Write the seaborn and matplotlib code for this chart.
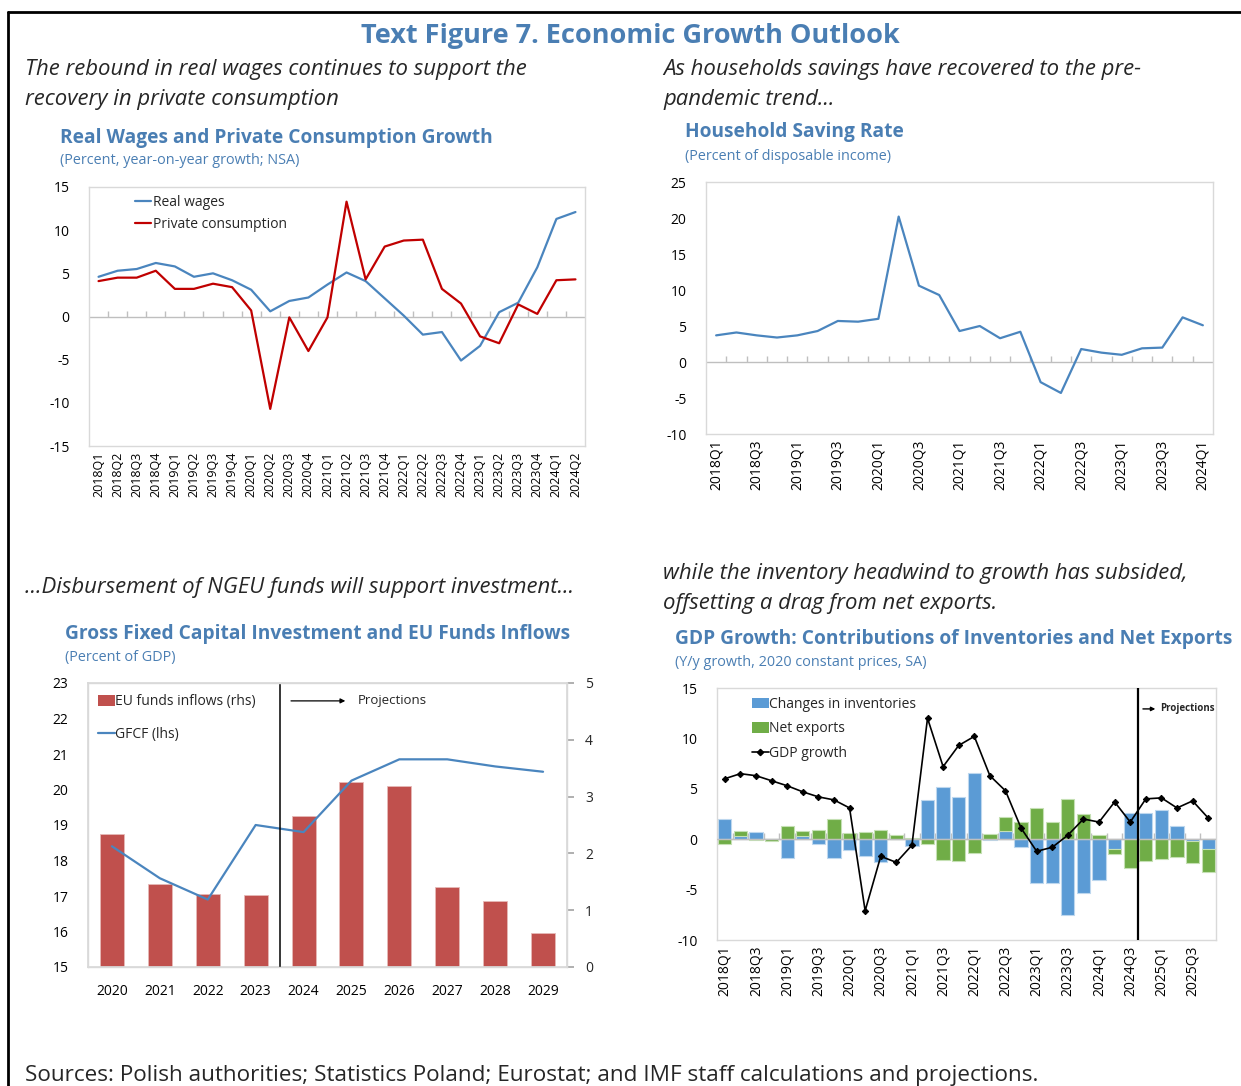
import numpy as np
import pandas as pd
import matplotlib
matplotlib.use('Agg')
import matplotlib.pyplot as plt
from matplotlib.lines import Line2D
from matplotlib.patches import Patch
import seaborn as sns

# ---------------- data ----------------
# Real wages and private consumption, 2018Q1-2024Q2 (y/y %)
quarters_wages = [f'{y}Q{q}' for y in range(2018, 2025) for q in range(1, 5)][:26]
real_wages = [4.6, 5.3, 5.5, 6.2, 5.8, 4.6, 5.0, 4.2, 3.1, 0.6, 1.8, 2.2, 3.7,
              5.1, 4.1, 2.1, 0.1, -2.1, -1.8, -5.1, -3.4, 0.5, 1.6, 5.7, 11.3, 12.1]
private_consumption = [4.1, 4.5, 4.5, 5.3, 3.2, 3.2, 3.8, 3.4, 0.7, -10.7, -0.1, -4.0, -0.1,
                       13.3, 4.3, 8.1, 8.8, 8.9, 3.2, 1.5, -2.3, -3.1, 1.4, 0.3, 4.2, 4.3]

# Household saving rate, 2018Q1-2024Q1 (% of disposable income)
quarters_saving = [f'{y}Q{q}' for y in range(2018, 2025) for q in range(1, 5)][:25]
saving_rate = [3.7, 4.1, 3.7, 3.4, 3.7, 4.3, 5.7, 5.6, 6.0, 20.2, 10.6, 9.3, 4.3,
               5.0, 3.3, 4.2, -2.8, -4.3, 1.8, 1.3, 1.0, 1.9, 2.0, 6.2, 5.1]

# GFCF and EU funds, 2020-2029 (% of GDP)
years = ['2020', '2021', '2022', '2023', '2024', '2025', '2026', '2027', '2028', '2029']
eu_funds = [2.34, 1.47, 1.28, 1.27, 2.65, 3.25, 3.18, 1.40, 1.17, 0.60]
gfcf = [18.4, 17.5, 16.9, 19.0, 18.8, 20.25, 20.85, 20.85, 20.65, 20.5]

# GDP growth contributions, 2018Q1-2025Q4
quarters_gdp = [f'{y}Q{q}' for y in range(2018, 2026) for q in range(1, 5)]
inventories = [2.0, 0.3, 0.7, 0.05, -1.9, 0.3, -0.5, -1.9, -1.1, -1.7, -2.3, 0.0, -0.7, 3.9, 5.2, 4.2,
               6.6, -0.1, 0.8, -0.8, -4.3, -4.3, -7.5, -5.3, -4.0, -1.0, 2.6, 2.6, 2.9, 1.3, -0.2, -1.0]
net_exports = [-0.5, 0.5, -0.1, -0.2, 1.3, 0.5, 0.9, 2.0, 0.6, 0.7, 0.9, 0.4, 0.1, -0.5, -2.1, -2.2,
               -1.4, 0.5, 1.4, 1.7, 3.1, 1.7, 4.0, 2.5, 0.4, -0.45, -2.9, -2.2, -2.0, -1.8, -2.2, -2.3]
gdp_growth = [6.0, 6.5, 6.3, 5.8, 5.3, 4.7, 4.2, 3.9, 3.1, -7.1, -1.7, -2.3, -0.6, 12.0, 7.2, 9.3,
              10.2, 6.3, 4.8, 1.1, -1.2, -0.8, 0.4, 2.0, 1.7, 3.7, 1.7, 4.0, 4.1, 3.1, 3.8, 2.1]

# ---------------- style ----------------
sns.set_theme(style='white')
plt.rcParams['font.family'] = ['Open Sans', 'DejaVu Sans']

BLUE_T = '#4A7EB3'
GRID = '#D9D9D9'
W, H = 1241, 1086

fig = plt.figure(figsize=(W / 100, H / 100), dpi=100)


def fx(px):
    return px / W


def fy(py):
    return 1 - py / H


def make_ax(l, t, r, b):
    ax = fig.add_axes([fx(l), fy(b), fx(r) - fx(l), fy(t) - fy(b)])
    for s in ax.spines.values():
        s.set_color(GRID)
        s.set_linewidth(1)
    ax.tick_params(axis='both', length=0, labelsize=10, colors='black', pad=4)
    return ax


def zero_ticks(ax, n, height):
    ax.axhline(0, color='#BFBFBF', lw=1, zorder=1)
    ax.vlines(np.arange(n - 1) + 0.5, 0, height, color='#BFBFBF', lw=1, zorder=1)


# ---------------- texts ----------------
fig.text(0.508, fy(36), 'Text Figure 7. Economic Growth Outlook', ha='center', va='center',
         fontsize=19.5, fontweight='bold', color=BLUE_T)
fig.add_artist(Line2D([fx(8), 1], [fy(12), fy(12)], color='black', lw=2))
fig.add_artist(Line2D([fx(8), fx(8)], [fy(12), 0], color='black', lw=2))

it = dict(fontsize=15.9, style='italic', va='center', ha='left')
fig.text(fx(25), fy(70), 'The rebound in real wages continues to support the', **it)
fig.text(fx(25), fy(100), 'recovery in private consumption', **it)
fig.text(fx(663), fy(70), 'As households savings have recovered to the pre-', **it)
fig.text(fx(663), fy(100), 'pandemic trend...', **it)
fig.text(fx(25), fy(588), '...Disbursement of NGEU funds will support investment...', **it)
fig.text(fx(663), fy(573), 'while the inventory headwind to growth has subsided,', **it)
fig.text(fx(663), fy(603), 'offsetting a drag from net exports.', **it)

tt = dict(fontsize=13.8, fontweight='bold', color=BLUE_T, va='center', ha='left')
st = dict(fontsize=10.4, color=BLUE_T, va='center', ha='left')
fig.text(fx(60), fy(138), 'Real Wages and Private Consumption Growth', **tt)
fig.text(fx(60), fy(161), '(Percent, year-on-year growth; NSA)', **st)
fig.text(fx(685), fy(132), 'Household Saving Rate', **tt)
fig.text(fx(685), fy(156), '(Percent of disposable income)', **st)
fig.text(fx(65), fy(634), 'Gross Fixed Capital Investment and EU Funds Inflows', **tt)
fig.text(fx(65), fy(657), '(Percent of GDP)', **st)
fig.text(fx(675), fy(639), 'GDP Growth: Contributions of Inventories and Net Exports', **tt)
fig.text(fx(675), fy(662), '(Y/y growth, 2020 constant prices, SA)', **st)

fig.text(fx(25), fy(1076), 'Sources: Polish authorities; Statistics Poland; Eurostat; and IMF staff '
         'calculations and projections.', fontsize=16.2, va='center', ha='left')

# ---------------- top-left: wages & consumption ----------------
ax1 = make_ax(89, 187, 585, 446)
df1 = pd.DataFrame({'idx': np.arange(len(quarters_wages)), 'Real wages': real_wages,
                    'Private consumption': private_consumption})
zero_ticks(ax1, len(quarters_wages), 0.6)
sns.lineplot(data=df1, x='idx', y='Real wages', color='#4A85BE', lw=1.6, ax=ax1, label='Real wages')
sns.lineplot(data=df1, x='idx', y='Private consumption', color='#C00000', lw=1.6, ax=ax1,
             label='Private consumption')
ax1.set_xlim(-0.5, len(quarters_wages) - 0.5)
ax1.set_ylim(-15, 15)
ax1.set_yticks(range(-15, 16, 5))
ax1.set_yticklabels([str(v) for v in range(-15, 16, 5)])
ax1.set_xticks(df1['idx'])
ax1.set_xticklabels(quarters_wages, rotation=90, fontsize=9)
ax1.set_xlabel('')
ax1.set_ylabel('')
ax1.tick_params(axis='y', pad=14)
ax1.legend(loc='upper left', bbox_to_anchor=(0.075, 1.0), frameon=False, fontsize=10,
           handlelength=1.2, handletextpad=0.1, labelspacing=0.45, borderaxespad=0.2)

# ---------------- top-right: saving rate ----------------
ax2 = make_ax(706, 182, 1213, 434)
df2 = pd.DataFrame({'idx': np.arange(len(quarters_saving)), 'rate': saving_rate})
zero_ticks(ax2, len(quarters_saving), 0.9)
sns.lineplot(data=df2, x='idx', y='rate', color='#4A85BE', lw=1.6, ax=ax2)
ax2.set_xlim(-0.5, len(quarters_saving) - 0.5)
ax2.set_ylim(-10, 25)
ax2.set_yticks(range(-10, 26, 5))
ax2.set_yticklabels([str(v) for v in range(-10, 26, 5)])
ax2.set_xticks(df2['idx'][::2])
ax2.set_xticklabels(quarters_saving[::2], rotation=90, fontsize=10)
ax2.set_xlabel('')
ax2.set_ylabel('')
ax2.tick_params(axis='y', pad=14)

# ---------------- bottom-left: GFCF & EU funds ----------------
ax3 = make_ax(88, 683, 567, 967)
ax3r = ax3.twinx()
df3 = pd.DataFrame({'year': years, 'eu': eu_funds, 'gfcf': gfcf})
sns.barplot(data=df3, x='year', y='eu', color='#C0504D', saturation=1, width=0.5, ax=ax3r,
            edgecolor='#E6B9B8', linewidth=0.6)
ax3r.set_ylim(0, 5)
ax3r.set_yticks(range(0, 6))
ax3r.set_ylabel('')
ax3r.tick_params(axis='y', length=5, color='#A6A6A6', labelsize=10, pad=8)
for s in ax3r.spines.values():
    s.set_color(GRID)
ax3.set_zorder(ax3r.get_zorder() + 1)
ax3.patch.set_visible(False)
sns.lineplot(x=np.arange(len(years)), y=df3['gfcf'], color='#4A85BE', lw=1.6, ax=ax3)
ax3.set_ylim(15, 23)
ax3.set_yticks(range(15, 24))
ax3.set_xlim(-0.5, len(years) - 0.5)
ax3r.set_xlim(-0.5, len(years) - 0.5)
ax3.set_xticks(range(len(years)))
ax3.set_xticklabels(years, fontsize=10)
ax3.set_xlabel('')
ax3.set_ylabel('')
ax3.tick_params(axis='x', pad=12)
ax3.tick_params(axis='y', pad=14)
ax3r.set_xlabel('')
ax3.axvline(3.5, color='black', lw=1.1)
ax3.annotate('', xy=(0.543, 0.937), xytext=(0.418, 0.937), xycoords='axes fraction',
             arrowprops=dict(arrowstyle='-|>', color='black', lw=0.9, mutation_scale=7))
ax3.text(0.564, 0.937, 'Projections', transform=ax3.transAxes, fontsize=9.5, va='center')
h3 = [Patch(facecolor='#C0504D', edgecolor='none'), Line2D([], [], color='#4A85BE', lw=1.6)]
ax3.legend(h3, ['EU funds inflows (rhs)', 'GFCF (lhs)'], loc='upper left',
           bbox_to_anchor=(-0.005, 1.005), frameon=False, fontsize=10, handlelength=1.2,
           handleheight=0.9, handletextpad=0.05, labelspacing=1.3)

# ---------------- bottom-right: GDP contributions ----------------
ax4 = make_ax(717, 688, 1216, 940)
inv = np.array(inventories)
nx = np.array(net_exports)
nx_bottom = np.where(nx >= 0, np.maximum(inv, 0), np.minimum(inv, 0))
idx4 = np.arange(len(quarters_gdp))
zero_ticks(ax4, len(quarters_gdp), 0.6)
sns.barplot(x=idx4, y=inv, native_scale=True, color='#5B9BD5', saturation=1, width=0.85,
            edgecolor='#BDD7EE', linewidth=0.8, ax=ax4, zorder=2)
ax4.bar(idx4, nx, bottom=nx_bottom, width=0.85, color='#70AD47', edgecolor='#C5E0B4',
        linewidth=0.8, zorder=2)
ax4.axhline(0, color='#BFBFBF', lw=1, zorder=3)
sns.lineplot(x=idx4, y=gdp_growth, color='black', lw=1.2, marker='D', markersize=3.2,
             markeredgecolor='black', ax=ax4, zorder=4)
ax4.axvline(26.5, color='black', lw=1.6, zorder=5)
ax4.set_xlim(-0.5, len(quarters_gdp) - 0.5)
ax4.set_ylim(-10, 15)
ax4.set_yticks(range(-10, 16, 5))
ax4.set_yticklabels([str(v) for v in range(-10, 16, 5)])
ax4.set_xticks(idx4[::2])
ax4.set_xticklabels(quarters_gdp[::2], rotation=90, fontsize=10)
ax4.set_xlabel('')
ax4.set_ylabel('')
ax4.tick_params(axis='y', pad=14)
ax4.annotate('', xy=(0.884, 0.917), xytext=(0.848, 0.917), xycoords='axes fraction',
             arrowprops=dict(arrowstyle='-|>', color='black', lw=1.0, mutation_scale=6))
ax4.text(0.888, 0.917, 'Projections', transform=ax4.transAxes, fontsize=7,
         fontweight='bold', va='center')
h4 = [Patch(facecolor='#5B9BD5', edgecolor='none'), Patch(facecolor='#70AD47', edgecolor='none'),
      Line2D([], [], color='black', lw=1.2, marker='D', markersize=3.2)]
ax4.legend(h4, ['Changes in inventories', 'Net exports', 'GDP growth'], loc='upper left',
           bbox_to_anchor=(0.045, 1.015), frameon=False, fontsize=10, handlelength=1.2,
           handleheight=0.8, handletextpad=0.05, labelspacing=0.7)

fig.savefig('out.png', dpi=100)
